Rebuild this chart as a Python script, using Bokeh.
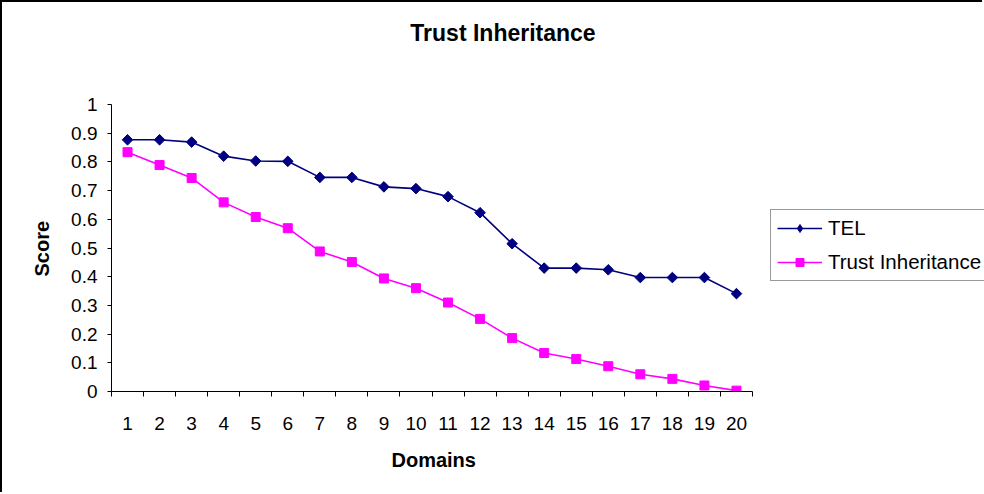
from bokeh.plotting import figure
from bokeh.models import (FixedTicker, NumeralTickFormatter, Legend, LegendItem, Label, Title)
from bokeh.embed import file_html
from bokeh.resources import INLINE
import numpy as np

domains = list(range(1, 21))
tel = [0.877, 0.877, 0.869, 0.820, 0.803, 0.802, 0.746, 0.746, 0.713, 0.707,
       0.679, 0.623, 0.515, 0.430, 0.430, 0.424, 0.397, 0.397, 0.397, 0.341]
trust_inh = [0.834, 0.789, 0.744, 0.659, 0.608, 0.569, 0.488, 0.451, 0.394, 0.360,
             0.310, 0.253, 0.186, 0.134, 0.113, 0.088, 0.060, 0.044, 0.021, 0.003]
y_ticks = [0, 0.1, 0.2, 0.3, 0.4, 0.5, 0.6, 0.7, 0.8, 0.9, 1.0]

FONT = "Liberation Sans"

# canvas 982x492 (+2px css border); the frame also covers the legend/title area,
# axes are bounded to the real data area
W, H = 982, 492
FL, FB = 109, 103                 # left / bottom borders
PX_X = 641 / 20                   # pixels per domain
PX_Y = 287                        # pixels per score unit
x_end = 0.5 + (W - FL) / PX_X
y_end = (H - FB) / PX_Y

p = figure(width=W, height=H, output_backend="svg", toolbar_location=None,
           x_range=(0.5, x_end), y_range=(0, y_end),
           min_border_left=FL, min_border_right=0,
           min_border_top=0, min_border_bottom=FB)
p.stylesheets = [":host { border-left: 2px solid black; border-top: 2px solid black; }"]
p.outline_line_color = None
p.xgrid.visible = False
p.ygrid.visible = False
p.background_fill_color = "white"
p.border_fill_color = "white"
p.title.visible = False

# x axis
xa = p.xaxis[0]
xa.bounds = (0.5, 20.5)
xa.ticker = FixedTicker(ticks=domains, minor_ticks=[d - 0.5 for d in domains] + [20.5])
xa.major_tick_out = 0
xa.major_tick_in = 0
xa.minor_tick_out = 5
xa.minor_tick_in = 0
xa.minor_tick_line_color = "black"
xa.axis_line_color = "black"
xa.major_label_text_font = FONT
xa.major_label_text_font_size = "19px"
xa.major_label_text_color = "black"
xa.major_label_standoff = 20

# y axis
ya = p.yaxis[0]
ya.bounds = (0, 1)
ya.ticker = FixedTicker(ticks=y_ticks, minor_ticks=[])
ya.formatter = NumeralTickFormatter(format="0.[0]")
ya.major_tick_out = 4
ya.major_tick_in = 0
ya.major_tick_line_color = "black"
ya.axis_line_color = "black"
ya.major_label_text_font = FONT
ya.major_label_text_font_size = "19px"
ya.major_label_text_color = "black"
ya.major_label_standoff = 10

# axis titles
p.add_layout(Title(text="Domains", text_font=FONT, text_font_size="20px",
                   text_font_style="bold", text_color="black",
                   align="left", offset=280, vertical_align="top", standoff=32), "below")
p.add_layout(Title(text="Score", text_font=FONT, text_font_size="20px",
                   text_font_style="bold", text_color="black",
                   align="left", offset=115, vertical_align="bottom", standoff=31), "left")

l1 = p.line(domains, tel, line_color="#000080", line_width=1.6)
# diamond used for the legend swatch (hidden under the plotted markers)
d1 = p.scatter(domains, tel, marker="diamond", size=9,
               fill_color="#000080", line_color="#000080")
m1 = p.scatter(domains, tel, marker="square", angle=np.pi / 4, size=7.5,
               fill_color="#000080", line_color="#000080")
l2 = p.line(domains, trust_inh, line_color="#FF00FF", line_width=1.6)
m2 = p.scatter(domains, trust_inh, marker="square", size=9,
               fill_color="#FF00FF", line_color="#FF00FF")

legend = Legend(items=[LegendItem(label="TEL", renderers=[l1, d1]),
                       LegendItem(label="Trust Inheritance", renderers=[l2, m2])],
                location=(659, 110), orientation="vertical",
                label_text_font=FONT, label_text_font_size="20.5px",
                label_text_color="black",
                glyph_width=45, glyph_height=20, label_height=20,
                label_standoff=6, spacing=10, padding=6, margin=0,
                border_line_color="#333333", border_line_width=1,
                background_fill_color="white", background_fill_alpha=1)
p.add_layout(legend)

title = Label(x=0.5 + 391.5 / PX_X, y=359 / PX_Y,
              text="Trust Inheritance", text_font=FONT, text_font_size="23px",
              text_font_style="bold", text_align="center", text_baseline="middle",
              text_color="black")
p.add_layout(title)

open("out.html", "w").write(file_html(p, INLINE))
